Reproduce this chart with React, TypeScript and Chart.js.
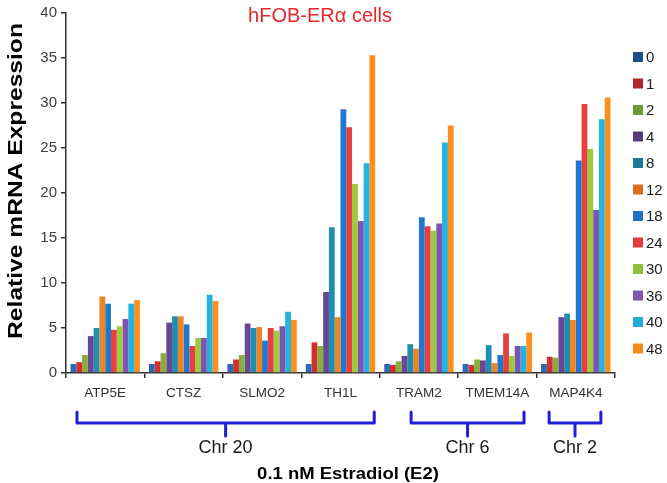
import React, { useEffect, useRef } from "react";
import { Chart, registerables } from "chart.js";

Chart.register(...registerables);

const genes = ["ATP5E", "CTSZ", "SLMO2", "TH1L", "TRAM2", "TMEM14A", "MAP4K4"];
const timePoints = ["0", "1", "2", "4", "8", "12", "18", "24", "30", "36", "40", "48"];

const atp5e = [1.0, 1.2, 2.0, 4.1, 5.0, 8.5, 7.7, 4.8, 5.2, 6.0, 7.7, 8.1];
const ctsz = [1.0, 1.3, 2.2, 5.6, 6.3, 6.3, 5.4, 3.0, 3.9, 3.9, 8.7, 8.0];
const slmo2 = [1.0, 1.5, 2.0, 5.5, 5.0, 5.1, 3.6, 5.0, 4.7, 5.2, 6.8, 5.9];
const th1l = [1.0, 3.4, 3.0, 9.0, 16.2, 6.2, 29.3, 27.3, 21.0, 16.9, 23.3, 35.3];
const tram2 = [1.0, 0.9, 1.3, 1.9, 3.2, 2.7, 17.3, 16.3, 15.8, 16.6, 25.6, 27.5];
const tmem14a = [1.0, 0.9, 1.5, 1.4, 3.1, 1.1, 2.0, 4.4, 1.9, 3.0, 3.0, 4.5];
const map4k4 = [1.0, 1.8, 1.7, 6.2, 6.6, 5.9, 23.6, 29.9, 24.9, 18.1, 28.2, 30.6];

const yTicks = [0, 5, 10, 15, 20, 25, 30, 35, 40];

const chrGroups = [
  { label: "Chr 20", from: 0, to: 3, startOff: -0.36, endOff: 0.43 },
  { label: "Chr 6", from: 4, to: 5, startOff: -0.1, endOff: 0.34 },
  { label: "Chr 2", from: 6, to: 6, startOff: -0.34, endOff: 0.32 },
];

const seriesColors = [
  "#2C6AB2", "#D1302F", "#88AE3E", "#684896", "#1D8FAF", "#EE8424",
  "#1F77CF", "#E83E3D", "#9BCB3C", "#7F52B5", "#22B3DF", "#FE8F1E",
];
const legendColors = [
  "#1F4E8C", "#B0242A", "#6E9A33", "#553B80", "#1C7C94", "#D86E1E",
  "#1F72C8", "#E03C3C", "#8DC03C", "#7F55B0", "#22ADD6", "#F5891E",
];

const FONT = "'Liberation Sans', Arial, sans-serif";

export default function App() {
  const ref = useRef<HTMLCanvasElement | null>(null);

  useEffect(() => {
    if (!ref.current) return;
    const table = [atp5e, ctsz, slmo2, th1l, tram2, tmem14a, map4k4];
    const datasets = timePoints.map((t, i) => ({
      label: t,
      data: table.map((g) => g[i]),
      backgroundColor: seriesColors[i],
      borderWidth: 0,
      categoryPercentage: 0.885,
      barPercentage: 1.0,
    }));

    const decor = {
      id: "decor",
      afterDraw(chart: any) {
        const ctx = chart.ctx;
        const x = chart.scales.x;
        const step = x.getPixelForValue(1) - x.getPixelForValue(0);
        ctx.save();
        // title
        ctx.fillStyle = "#E8262C";
        ctx.font = `20px ${FONT}`;
        ctx.textAlign = "center";
        ctx.textBaseline = "middle";
        ctx.fillText("hFOB-ERα cells", 320, 16);

        // y axis label
        ctx.save();
        ctx.translate(16, 181);
        ctx.rotate(-Math.PI / 2);
        ctx.scale(1.2, 1);
        ctx.fillStyle = "#000";
        ctx.font = `bold 20.5px ${FONT}`;
        ctx.fillText("Relative mRNA Expression", 0, 0);
        ctx.restore();

        // brackets
        ctx.strokeStyle = "#1E1ED8";
        ctx.lineWidth = 3;
        ctx.lineJoin = "round";
        ctx.lineCap = "round";
        chrGroups.forEach((g) => {
          const x1 = x.getPixelForValue(g.from) + g.startOff * step;
          const x2 = x.getPixelForValue(g.to) + g.endOff * step;
          const xc = (x1 + x2) / 2;
          ctx.beginPath();
          ctx.moveTo(x1, 412);
          ctx.lineTo(x1, 423);
          ctx.lineTo(x2, 423);
          ctx.lineTo(x2, 412);
          ctx.moveTo(xc, 423);
          ctx.lineTo(xc, 436);
          ctx.stroke();
          ctx.fillStyle = "#1a1a1a";
          ctx.font = `18px ${FONT}`;
          ctx.fillText(g.label, xc, 448);
        });

        // x title
        ctx.save();
        ctx.translate(348, 474);
        ctx.scale(1.12, 1);
        ctx.fillStyle = "#000";
        ctx.font = `bold 16.5px ${FONT}`;
        ctx.fillText("0.1 nM Estradiol (E2)", 0, 0);
        ctx.restore();

        // legend
        ctx.textAlign = "left";
        ctx.font = `15px ${FONT}`;
        chart.data.datasets.forEach((ds: any, i: number) => {
          const cy = 57 + i * 26.5;
          ctx.fillStyle = legendColors[i];
          ctx.fillRect(633, cy - 5, 10, 10);
          ctx.fillStyle = "#222";
          ctx.fillText(ds.label, 646, cy + 1);
        });
        ctx.restore();
      },
    };

    const chart = new Chart(ref.current, {
      type: "bar",
      data: { labels: genes, datasets },
      options: {
        responsive: false,
        animation: false,
        layout: { padding: { top: 12, right: 52, left: 0, bottom: 0 } },
        plugins: { legend: { display: false }, tooltip: { enabled: false } },
        scales: {
          x: {
            grid: { display: true, drawOnChartArea: false, drawTicks: true, tickLength: 5, color: "#333", lineWidth: 1.5, offset: true },
            border: { color: "#333", width: 1.5 },
            ticks: { font: { size: 13.5, family: FONT }, color: "#333", padding: 7 },
            afterFit: (s: any) => { s.height = 110; },
          },
          y: {
            min: 0,
            max: 40,
            afterBuildTicks: (s: any) => { s.ticks = yTicks.map((v) => ({ value: v })); },
            grid: { display: true, drawOnChartArea: false, drawTicks: true, tickLength: 5, color: "#333", lineWidth: 1.5 },
            border: { color: "#333", width: 1.5 },
            ticks: { font: { size: 15, family: FONT }, color: "#404040", padding: 4 },
            afterFit: (s: any) => { s.width = 66; },
          },
        },
      },
      plugins: [decor],
    });
    return () => chart.destroy();
  }, []);

  return (
    <div style={{ position: "fixed", left: 0, top: 0, width: 667, height: 483, background: "#fff" }}>
      <canvas ref={ref} width={667} height={483} />
    </div>
  );
}
